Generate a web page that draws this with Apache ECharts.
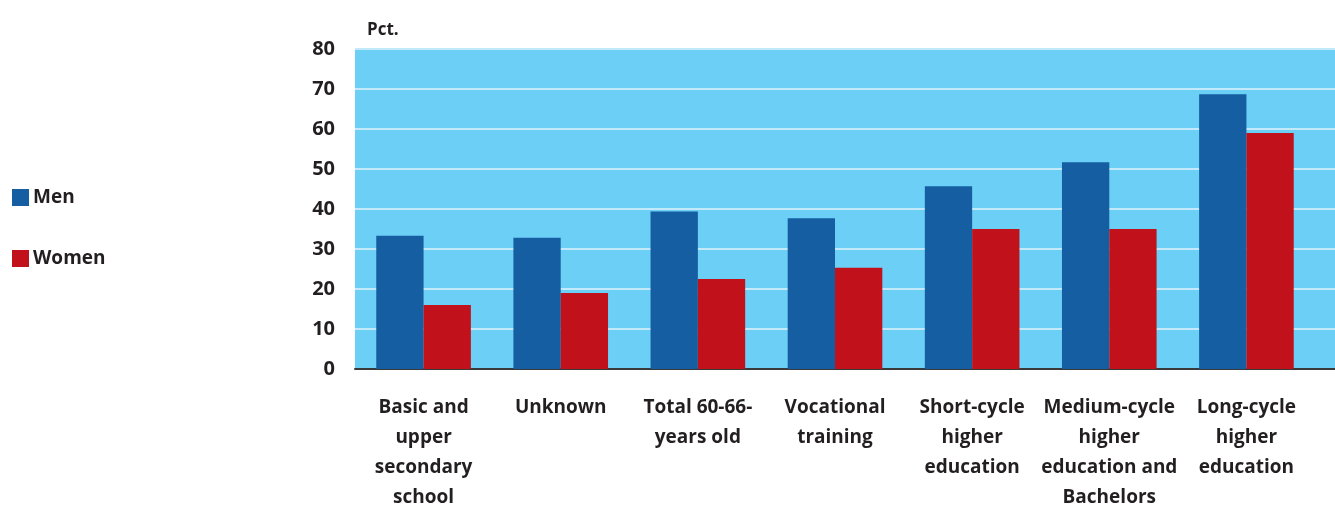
<!DOCTYPE html>
<html>
<head>
<meta charset="utf-8">
<script src="https://cdn.jsdelivr.net/npm/echarts@6/dist/echarts.min.js"></script>
<style>
  html, body { margin: 0; padding: 0; background: #fff; }
  #chart { width: 1335px; height: 506px; }
</style>
</head>
<body>
<div id="chart"></div>
<script>
var categories = [
    'Basic and\nupper\nsecondary\nschool',
    'Unknown',
    'Total 60-66-\nyears old',
    'Vocational\ntraining',
    'Short-cycle\nhigher\neducation',
    'Medium-cycle\nhigher\neducation and\nBachelors',
    'Long-cycle\nhigher\neducation'
];
var men = [33.3, 32.8, 39.4, 37.7, 45.7, 51.7, 68.7];
var women = [16.0, 19.0, 22.5, 25.3, 35.0, 35.0, 59.0];
var yTicks = { min: 0, max: 80, interval: 10 };

var font = '"Open Sans", sans-serif';
var ink = '#231f20';

var myChart = echarts.init(document.getElementById('chart'));

var option = {
    animation: false,
    title: {
        text: 'Pct.',
        left: 362,
        top: 17,
        textStyle: { fontFamily: font, fontWeight: 'bold', fontSize: 17, color: ink }
    },
    legend: {
        data: ['Men', 'Women'],
        orient: 'vertical',
        left: 12,
        top: 188,
        padding: 0,
        itemWidth: 17,
        itemHeight: 17,
        itemGap: 42,
        icon: 'rect',
        textStyle: { fontFamily: font, fontWeight: 'bold', fontSize: 19, color: ink, padding: [0, 0, 0, -1] }
    },
    grid: [
        // background grid, runs to the right edge
        { left: 355, right: 0, top: 49, bottom: 137, show: true, backgroundColor: '#6ccff6', borderWidth: 0, outerBoundsMode: 'none' },
        // bar grid
        { left: 355, right: 20, top: 49, bottom: 137, outerBoundsMode: 'none' }
    ],
    xAxis: [
        {
            gridIndex: 0,
            type: 'category',
            data: [''],
            axisTick: { show: false },
            axisLabel: { show: false },
            axisLine: { show: true, lineStyle: { color: '#3a3a3a', width: 2 } }
        },
        {
            gridIndex: 1,
            type: 'category',
            data: categories,
            axisTick: { show: false },
            axisLine: { show: false },
            axisLabel: {
                interval: 0,
                margin: 24,
                lineHeight: 30,
                fontFamily: font,
                fontWeight: 'bold',
                fontSize: 19,
                color: ink
            }
        }
    ],
    yAxis: [
        {
            gridIndex: 0,
            type: 'value',
            min: yTicks.min, max: yTicks.max, interval: yTicks.interval,
            axisLabel: { show: false },
            axisLine: { show: false },
            axisTick: { show: false },
            splitLine: { show: true, lineStyle: { color: '#c2eafb', width: 2 } }
        },
        {
            gridIndex: 1,
            type: 'value',
            min: yTicks.min, max: yTicks.max, interval: yTicks.interval,
            axisLine: { show: false },
            axisTick: { show: false },
            splitLine: { show: false },
            axisLabel: {
                margin: 20,
                fontFamily: font,
                fontWeight: 'bold',
                fontSize: 20,
                color: ink
            }
        }
    ],
    series: [
        {
            name: 'Men',
            type: 'bar',
            xAxisIndex: 1,
            yAxisIndex: 1,
            barGap: '0%',
            barCategoryGap: '31%',
            itemStyle: { color: '#155ea2' },
            data: men
        },
        {
            name: 'Women',
            type: 'bar',
            xAxisIndex: 1,
            yAxisIndex: 1,
            itemStyle: { color: '#c1121c' },
            data: women
        }
    ]
};

myChart.setOption(option);
</script>
</body>
</html>
